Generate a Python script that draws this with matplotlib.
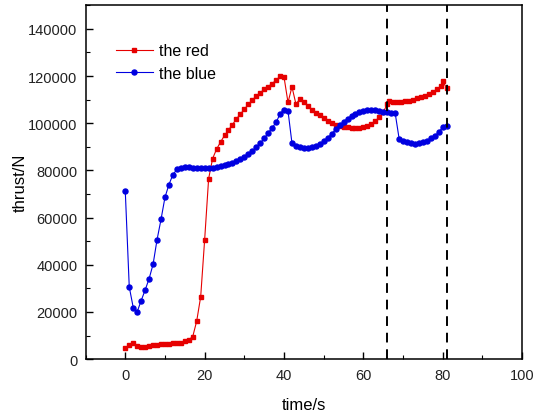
import numpy as np
import matplotlib
matplotlib.use("Agg")
import matplotlib.pyplot as plt
from matplotlib.ticker import MultipleLocator

plt.rcParams["font.family"] = ["Liberation Sans", "DejaVu Sans"]

# thrust of the two engines, kN, sampled once a second
red_time = list(range(0, 67)) + [66.5, 67.5, 68.5, 69.5, 70.5, 71.5, 72.5,
                                 73.5, 74.5, 75.5, 76.5, 77.5, 78.5, 79.5, 80, 81]
red_kn = [4.6, 6.1, 6.9, 5.7, 5.2, 5.3, 5.5, 5.8, 6.1, 6.4,
          6.6, 6.6, 6.7, 6.8, 6.9, 7.8, 8.2, 9.6, 16.2, 26.5,
          50.7, 76.5, 85.0, 89.0, 92.0, 94.8, 97.1, 99.4, 101.8, 103.9,
          105.9, 108.0, 109.7, 111.6, 112.9, 114.3, 115.5, 116.8, 118.2, 119.9,
          119.5, 108.8, 115.4, 108.1, 110.3, 109.0, 107.4, 105.8, 104.4, 103.3,
          102.2, 101.0, 100.2, 99.4, 98.8, 98.5, 98.2, 98.1, 98.1, 98.1,
          98.3, 98.8, 99.8, 100.9, 102.6, 104.7, 108.0,
          109.2, 108.9, 108.9, 109.0, 109.3, 109.6, 110.0, 110.5, 111.0, 111.6,
          112.4, 113.2, 114.3, 115.7, 117.7, 114.8]

blue_time = list(range(0, 82))
blue_kn = [71.1, 30.6, 21.9, 20.1, 24.8, 29.3, 34.1, 40.2, 50.6, 59.2,
           68.6, 74.0, 78.2, 80.4, 81.1, 81.4, 81.4, 81.2, 81.0, 80.9,
           81.1, 81.1, 81.1, 81.4, 81.7, 82.1, 82.6, 83.2, 83.9, 84.8,
           85.8, 86.8, 88.2, 89.9, 91.6, 93.6, 95.8, 98.1, 100.3, 104.0,
           105.8, 105.2, 91.5, 90.3, 89.8, 89.5, 89.5, 89.8, 90.3, 91.3,
           92.4, 93.8, 95.4, 97.4, 99.1, 100.5, 101.9, 103.0, 103.9, 104.7,
           105.3, 105.8, 105.8, 105.6, 105.3, 104.9, 104.6, 104.4, 104.3, 93.4,
           92.5, 92.0, 91.4, 91.3, 91.4, 91.9, 92.5, 93.6, 94.7, 96.1,
           98.5, 98.8]

marker_lines = [66, 81]

fig = plt.figure(figsize=(5.35, 4.14), dpi=100)
ax = fig.add_axes([0.160, 0.130, 0.816, 0.855])

ax.plot(red_time, np.array(red_kn) * 1000, "-s", color="#e60000", lw=0.8,
        ms=3.0, mec="#e60000", label="the red")
ax.plot(blue_time, np.array(blue_kn) * 1000, "-o", color="#0000e0", lw=0.8,
        ms=3.6, mec="#0000e0", label="the blue")

for xv in marker_lines:
    ax.axvline(xv, color="black", ls=(0, (5, 3.5)), lw=1.4)

ax.set_xlim(-10, 100)
ax.set_ylim(0, 150000)
ax.xaxis.set_major_locator(MultipleLocator(20))
ax.xaxis.set_minor_locator(MultipleLocator(10))
ax.yaxis.set_major_locator(MultipleLocator(20000))
ax.yaxis.set_minor_locator(MultipleLocator(10000))
ax.tick_params(which="both", direction="in", top=False, right=False,
               labelsize=10.5, pad=6, labelcolor="#222222")
ax.tick_params(which="major", length=5, width=1.0)
ax.tick_params(which="minor", length=3, width=0.8)
for sp in ax.spines.values():
    sp.set_linewidth(1.1)

ax.set_xlabel("time/s", fontsize=12, labelpad=11)
ax.set_ylabel("thrust/N", fontsize=12, labelpad=0)

ax.legend(loc="upper left", bbox_to_anchor=(0.055, 0.91), frameon=False,
          fontsize=11.5, handlelength=2.3, handletextpad=0.4, labelspacing=0.45,
          borderaxespad=0)

fig.savefig("out.png", dpi=100)
